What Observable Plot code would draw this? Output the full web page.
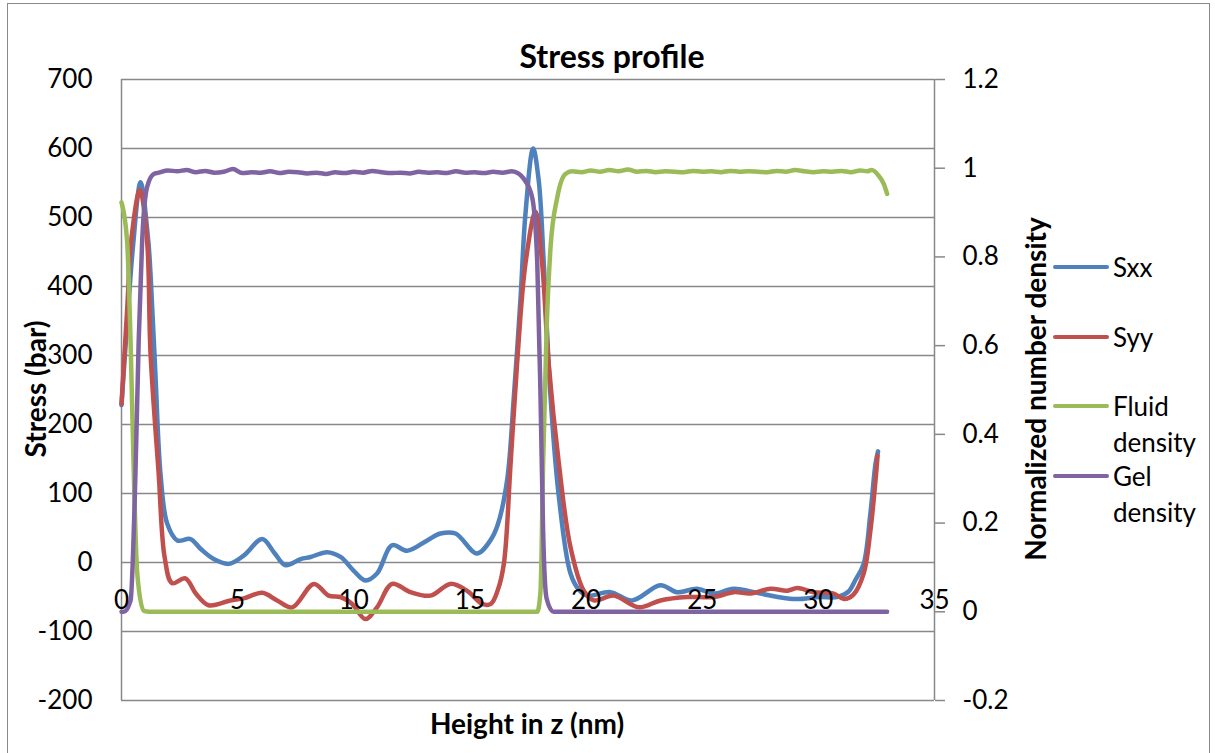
<!DOCTYPE html>
<html><head><meta charset="utf-8">
<script src="https://cdn.jsdelivr.net/npm/d3@7"></script>
<script src="https://cdn.jsdelivr.net/npm/@observablehq/plot@0.6"></script>
<style>
body{margin:0;background:#fff;font-family:Lato,"Open Sans",sans-serif;color:#000;}
#wrap{position:relative;width:1215px;height:753px;overflow:hidden;}
#wrap svg{position:absolute;left:0;top:0;}
#border{position:absolute;left:7px;top:3px;width:1203px;height:770px;border:1.5px solid #8a8a8a;box-sizing:border-box;}
.title{position:absolute;left:612px;top:55px;transform:translate(-50%,-50%);font-weight:bold;font-size:32px;white-space:nowrap;}
.xlab{position:absolute;left:527px;top:723px;transform:translate(-50%,-50%);font-weight:bold;font-size:28px;white-space:nowrap;}
.ylab{position:absolute;transform:translate(-50%,-50%) rotate(-90deg);font-weight:bold;font-size:28px;white-space:nowrap;}
.legend{position:absolute;left:1053px;top:249px;}
.item{position:relative;height:69.7px;}
.sw{position:absolute;left:0;top:16px;width:56px;height:4px;border-radius:2px;}
.lt{position:absolute;left:60px;top:0;width:110px;font-size:26px;line-height:36px;}
</style></head><body>
<div id="wrap"><div id="border"></div></div>
<script>
// ---- data ----
const sxxZ = [0,0.25,0.5,0.82,1.15,1.25,1.46,1.68,1.97,2.4,2.97,3.4,3.97,4.62,5.26,6.06,6.56,7.06,7.71,8.14,8.85,9.43,10.0,10.5,11.0,11.65,12.3,13.16,13.73,14.38,15.3,15.88,16.2,16.6,16.89,17.18,17.39,17.72,17.96,18.18,18.47,18.83,19.33,19.7,20.05,21.05,21.98,23.2,23.92,24.78,25.5,26.36,27.5,28.94,30.09,30.8,31.3,31.6,31.95,32.24,32.46,32.57];
const sxx  = [228,350,460,551,467,418,273,128,56,32,34,20,5,-2,10,34,15,-4,5,8,15,8,-12,-26,-16,25,17,32,42,42,13,32,55,119,240,384,505,600,554,433,240,95,-16,-40,-48,-43,-55,-33,-43,-38,-45,-38,-45,-53,-50,-50,-42,-25,-2,71,143,161];
const syyZ = [0,0.25,0.42,0.79,1.1,1.25,1.6,1.86,2.18,2.75,3.2,3.75,4.69,5.26,6.06,6.7,7.35,8.28,8.92,9.43,9.93,10.5,11.0,11.65,12.44,13.3,14.16,14.88,15.53,15.9,16.2,16.46,16.75,17.03,17.39,17.82,18.11,18.39,18.83,19.33,19.9,20.33,21.19,22.27,23.2,24.35,25.5,26.36,27.08,27.94,28.66,29.09,29.8,30.66,31.1,31.5,31.95,32.24,32.46,32.55];
const syy  = [230,370,467,540,467,303,129,7,-30,-23,-45,-62,-55,-52,-44,-55,-65,-31,-48,-50,-60,-82,-65,-31,-43,-48,-31,-41,-60,-60,-40,-2,143,288,433,508,433,288,143,22,-41,-55,-48,-65,-55,-50,-50,-43,-45,-38,-41,-37,-43,-45,-53,-47,-16,46,119,155];
const fluidZ = [0,0.24,0.39,0.53,0.68,0.96,1.2,17.9,18.04,18.15,18.3,18.47,18.76,19.11,19.4,19.8,20.2,20.6,21.0,21.4,21.8,22.2,22.6,23.0,23.4,23.8,24.2,24.6,25.0,25.4,25.8,26.2,26.6,27.0,27.4,27.8,28.2,28.6,29.0,29.4,29.8,30.2,30.6,31.0,31.4,31.8,32.1,32.3,32.6,32.82,32.96];
const fluid  = [0.923,0.837,0.611,0.31,0.085,0.002,0,0,0.047,0.333,0.634,0.821,0.934,0.987,0.993,0.991,0.995,0.992,0.996,0.993,0.997,0.992,0.994,0.991,0.993,0.992,0.991,0.994,0.992,0.993,0.991,0.994,0.992,0.993,0.992,0.991,0.994,0.992,0.996,0.993,0.991,0.993,0.992,0.994,0.991,0.995,0.993,0.996,0.983,0.964,0.942];
const gelZ = [0,0.1,0.39,0.6,0.74,0.89,1.1,1.39,1.6,2.0,2.4,2.8,3.2,3.6,4.0,4.4,4.8,5.2,5.6,6.0,6.4,6.8,7.2,7.6,8.0,8.4,8.8,9.2,9.6,10.0,10.4,10.8,11.2,11.6,12.0,12.4,12.8,13.2,13.6,14.0,14.4,14.8,15.2,15.6,16.0,16.4,16.8,17.1,17.32,17.68,17.9,18.04,18.15,18.3,18.6,32.96];
const gel  = [0,0,0.025,0.31,0.611,0.837,0.957,0.987,0.990,0.995,0.993,0.996,0.991,0.994,0.990,0.992,0.998,0.989,0.991,0.990,0.993,0.989,0.992,0.991,0.988,0.990,0.987,0.991,0.989,0.992,0.990,0.994,0.991,0.989,0.990,0.988,0.992,0.990,0.991,0.989,0.993,0.990,0.991,0.989,0.992,0.990,0.993,0.988,0.976,0.934,0.785,0.483,0.183,0.03,0,0];

const seriesNames = ["Sxx","Syy","Fluid density","Gel density"];
const seriesColors = ["#4F81BD","#C0504D","#9BBB59","#8064A2"];
const stressTicks = [-200,-100,0,100,200,300,400,500,600,700];
const densTicks = [-0.2,0,0.2,0.4,0.6,0.8,1,1.2];
const densLabels = ["-0.2","0","0.2","0.4","0.6","0.8","1","1.2"];
const xTicks = [0,5,10,15,20,25,30,35];
const xLabelStress = -55; // stress level at which the category labels sit
const texts = {title:"Stress profile", x:"Height in z (nm)", yLeft:"Stress (bar)", yRight:"Normalized number density"};

// density (secondary axis) mapped onto the stress scale
const dens2s = d3.scaleLinear([-0.2,1.2],[-200,700]);
const densLabelMap = new Map(densTicks.map((t,i)=>[dens2s(t).toFixed(3), densLabels[i]]));

const rows = (zs, vs, f) => zs.map((z,i)=>({z, v: f ? f(vs[i]) : vs[i]}));
const series = [
  {data: rows(sxxZ, sxx), curve:"catmull-rom"},
  {data: rows(syyZ, syy), curve:"catmull-rom"},
  {data: rows(fluidZ, fluid, dens2s), curve:"monotone-x"},
  {data: rows(gelZ, gel, dens2s), curve:"monotone-x"}
];

const chart = Plot.plot({
  width:1215, height:753,
  marginLeft:121, marginRight:281, marginTop:79, marginBottom:53,
  x:{domain:[0,35], axis:null},
  y:{domain:[-200,700], axis:null},
  style:{fontFamily:"Lato, 'Open Sans', sans-serif", fontSize:"26px", color:"#000", background:"transparent"},
  marks:[
    Plot.ruleY(stressTicks,{stroke:"#888",strokeWidth:1.5}),
    Plot.ruleX([0,35],{stroke:"#888",strokeWidth:1.5}),
    Plot.axisY(stressTicks,{anchor:"left",tickSize:0,tickPadding:29,label:null,fontSize:26,tickFormat:d=>String(d)}),
    Plot.axisY(densTicks.map(dens2s),{anchor:"right",tickSize:10,tickPadding:18,label:null,fontSize:26,stroke:"#888",strokeWidth:1.5,textAnchor:"start",
      tickFormat: v => densLabelMap.get(v.toFixed(3))}),
    ...series.map((s,i)=>Plot.line(s.data,{x:"z",y:"v",stroke:seriesColors[i],strokeWidth:4.5,curve:s.curve,strokeLinecap:"round",strokeLinejoin:"round"})),
    Plot.text(xTicks,{x:d=>d,y:()=>xLabelStress,text:d=>String(d),fontSize:26,fill:"#000"})
  ]
});
const wrap = document.getElementById("wrap");
wrap.appendChild(chart);

function addDiv(cls, text, style){const d=document.createElement("div");d.className=cls;d.textContent=text;if(style)Object.assign(d.style,style);wrap.appendChild(d);return d;}
addDiv("title", texts.title);
addDiv("xlab", texts.x);
addDiv("ylab", texts.yLeft, {left:"35px", top:"389px"});
addDiv("ylab", texts.yRight, {left:"1035px", top:"389px"});
const lg = document.createElement("div"); lg.className="legend";
seriesNames.forEach((n,i)=>{
  const it=document.createElement("div"); it.className="item";
  const sw=document.createElement("div"); sw.className="sw"; sw.style.background=seriesColors[i];
  const lt=document.createElement("div"); lt.className="lt"; lt.textContent=n;
  it.appendChild(sw); it.appendChild(lt); lg.appendChild(it);
});
wrap.appendChild(lg);
</script>
</body></html>
